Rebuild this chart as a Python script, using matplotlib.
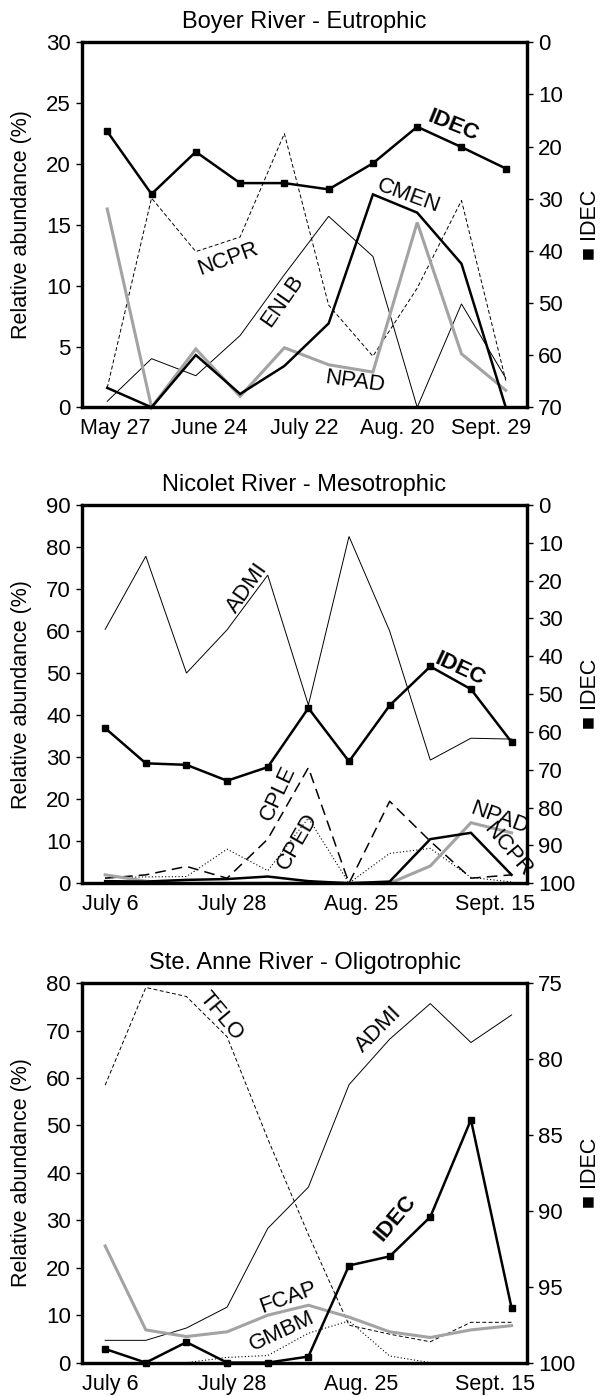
import matplotlib
matplotlib.use('Agg')
from matplotlib import pyplot as plt
import numpy as np

plt.rcParams['font.family'] = ['Liberation Sans', 'DejaVu Sans']

# ---- Boyer River (eutrophic) ----
boyer_ticks = ["May 27", "June 24", "July 22", "Aug. 20", "Sept. 29"]
boyer_idec = [17.1, 29.1, 21.0, 27.0, 27.0, 28.2, 23.2, 16.2, 20.1, 24.2]
boyer_cmen = [1.6, 0.0, 4.3, 1.1, 3.4, 6.9, 17.5, 16.0, 11.8, 0.0]
boyer_npad = [16.3, 0.0, 4.8, 0.9, 4.9, 3.5, 2.9, 15.2, 4.4, 1.4]
boyer_enlb = [0.5, 4.0, 2.6, 5.9, 10.9, 15.7, 12.4, 0.0, 8.5, 2.4]
boyer_ncpr = [1.6, 17.2, 12.8, 14.0, 22.5, 8.4, 4.2, 9.8, 17.0, 2.2]

# ---- Nicolet River (mesotrophic) ----
nicolet_ticks = ["July 6", "July 28", "Aug. 25", "Sept. 15"]
nicolet_idec = [59.0, 68.3, 68.7, 72.9, 69.3, 53.7, 67.8, 53.0, 42.7, 48.7, 62.7]
nicolet_admi = [60.4, 77.8, 50.0, 60.3, 73.3, 42.4, 82.5, 60.0, 29.3, 34.5, 34.3]
nicolet_cple = [1.2, 2.0, 4.0, 1.2, 10.5, 27.5, 0.0, 19.5, 10.0, 1.2, 2.0]
nicolet_cped = [1.3, 1.5, 1.6, 8.1, 3.0, 15.5, 0.0, 7.1, 8.3, 1.4, 0.3]
nicolet_ncpr = [0.5, 0.4, 0.8, 1.0, 1.6, 0.5, 0.0, 0.4, 10.5, 12.0, 2.0]
nicolet_npad = [2.0, 0.5, 0.0, 0.0, 0.0, 0.0, 0.0, 0.0, 4.1, 14.4, 12.0]

# ---- Ste. Anne River (oligotrophic) ----
anne_ticks = ["July 6", "July 28", "Aug. 25", "Sept. 15"]
anne_idec = [99.1, 100.0, 98.65, 100.0, 100.0, 99.6, 93.6, 93.0, 90.4, 84.0, 96.4]
anne_admi = [4.7, 4.7, 7.3, 11.7, 28.3, 37.0, 58.6, 68.2, 75.7, 67.5, 73.3]
anne_tflo = [58.5, 79.1, 77.2, 68.7, 47.2, 27.0, 7.9, 6.0, 4.4, 8.5, 8.5]
anne_fcap = [24.6, 6.9, 5.5, 6.5, 10.0, 12.1, 9.6, 6.5, 5.3, 6.9, 7.8]
anne_gmbm = [0.0, 0.0, 0.0, 1.1, 1.5, 6.2, 8.8, 1.4, 0.0, 0.0, 0.0]

GRAY = '#a3a3a3'
styles = {
	'thick': dict(color='black', lw=1.8),
	'gray': dict(color=GRAY, lw=2.2),
	'thin': dict(color='black', lw=0.7),
	'dash': dict(color='black', lw=0.7, dashes=(4, 2.5)),
	'longdash': dict(color='black', lw=1.1, dashes=(7, 4)),
	'dot': dict(color='black', lw=0.8, dashes=(1, 2)),
}

fig = plt.figure(figsize=(6.03, 13.96), dpi=100)

def drawPanel(rect, title, ticklabels, tickpos, series, idec, ylim, yticks, ylim2, yticks2, labels, xlim):
	ax = fig.add_axes(rect)
	x = np.arange(len(idec))
	for values, style in series:
		ax.plot(x, values, clip_on=False, solid_joinstyle='miter', **styles[style])
	ax.set_xlim(*xlim)
	ax.set_ylim(*ylim)
	ax.set_yticks(yticks)
	ax.set_xticks(tickpos)
	ax.set_xticklabels(ticklabels)
	ax.tick_params(axis='x', length=0, pad=8, labelsize=15.5)
	ax.tick_params(axis='y', length=4, width=1, pad=4, labelsize=16, direction='out')
	ax.set_ylabel("Relative abundance (%)", fontsize=15.5)
	ax.yaxis.set_label_coords(-0.113, 0.5)
	ax.set_title(title, fontsize=17, pad=10)
	for sp in ax.spines.values():
		sp.set_linewidth(2.3)

	ax2 = ax.twinx()
	ax2.plot(x, idec, color='black', lw=1.8, marker='s', markersize=5, clip_on=False, zorder=5)
	ax2.set_ylim(*ylim2)
	ax2.set_yticks(yticks2)
	ax2.tick_params(axis='y', length=4, width=1, pad=4, labelsize=16, direction='out')
	ax2.set_ylabel("\u25a0 IDEC", fontsize=15.5)
	ax2.yaxis.set_label_coords(1.118, 0.5)
	for sp in ax2.spines.values():
		sp.set_linewidth(2.3)

	for text, lx, ly, rot, bold in labels:
		ax.text(lx, ly, text, rotation=rot, fontsize=16, ha='center', va='center',
				fontweight='bold' if bold else 'normal', rotation_mode='anchor')
	return ax

drawPanel([0.136, 0.7082, 0.738, 0.2615], "Boyer River - Eutrophic", boyer_ticks,
		  [0.19, 2.31, 4.45, 6.54, 8.66],
		  [(boyer_ncpr, 'dash'), (boyer_enlb, 'thin'), (boyer_npad, 'gray'), (boyer_cmen, 'thick')],
		  boyer_idec, (0, 30), range(0, 31, 5), (70, 0), range(0, 71, 10),
		  [("IDEC", 7.8, 23.1, -22, True), ("CMEN", 6.8, 17.4, -20, False),
		   ("NCPR", 2.73, 12.2, 20, False), ("ENLB", 3.95, 8.7, 55, False),
		   ("NPAD", 5.6, 2.1, -8, False)],
		  (-0.57, 9.48))

drawPanel([0.136, 0.3673, 0.738, 0.271], "Nicolet River - Mesotrophic", nicolet_ticks,
		  [0.12, 3.12, 6.31, 9.6],
		  [(nicolet_admi, 'thin'), (nicolet_cped, 'dot'), (nicolet_cple, 'longdash'),
		   (nicolet_npad, 'gray'), (nicolet_ncpr, 'thick')],
		  nicolet_idec, (0, 90), range(0, 91, 10), (100, 0), range(0, 101, 10),
		  [("ADMI", 3.5, 70.2, 55, False), ("IDEC", 8.73, 50.8, -25, True),
		   ("CPLE", 4.26, 21.4, 65, False), ("CPED", 4.74, 9.9, 60, False),
		   ("NPAD", 9.7, 15.5, -20, False), ("NCPR", 9.9, 7.9, -50, False)],
		  (-0.57, 10.38))

drawPanel([0.136, 0.0239, 0.738, 0.2718], "Ste. Anne River - Oligotrophic", anne_ticks,
		  [0.12, 3.12, 6.31, 9.6],
		  [(anne_tflo, 'dash'), (anne_gmbm, 'dot'), (anne_admi, 'thin'), (anne_fcap, 'gray')],
		  anne_idec, (0, 80), range(0, 81, 10), (100, 75), range(75, 101, 5),
		  [("TFLO", 2.84, 73.0, -50, False), ("ADMI", 6.74, 70.2, 45, False),
		   ("IDEC", 7.15, 30.5, 50, True), ("FCAP", 4.5, 13.6, 20, False),
		   ("GMBM", 4.36, 6.5, 25, False)],
		  (-0.57, 10.38))

plt.savefig("out.png", dpi=100)
plt.close()
